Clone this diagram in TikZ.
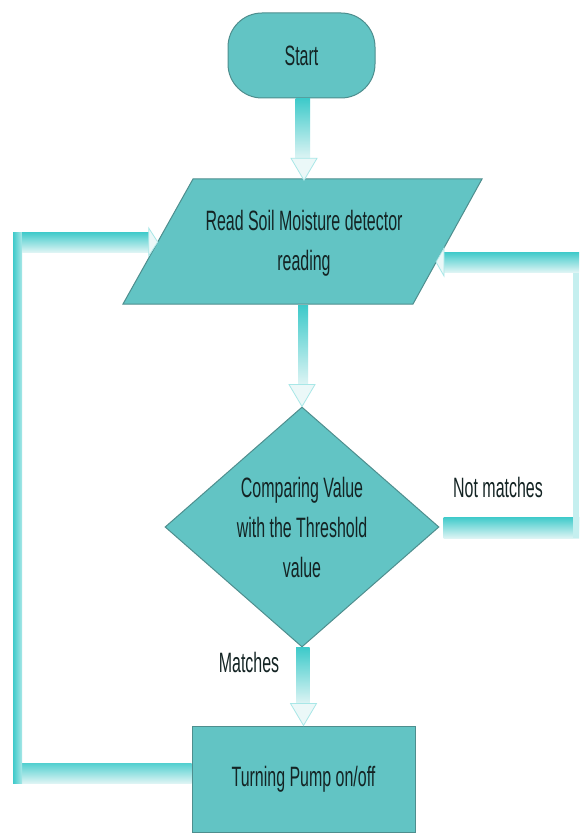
\documentclass[tikz,border=0pt]{standalone}
\usepackage{fontspec}
\setmainfont{Liberation Sans}[FakeStretch=0.57]
\usetikzlibrary{calc,shapes.geometric}

\definecolor{boxc}{HTML}{62C4C4}
\definecolor{edgec}{HTML}{4E8E8E}
\definecolor{flowc}{HTML}{3ECACA}
\definecolor{flowlt}{HTML}{DDF4F4}
\definecolor{txtc}{HTML}{142424}

\tikzset{
  box/.style={draw=edgec, line width=1pt, fill=boxc, text=txtc, align=center,
    font=\fontsize{28}{40}\selectfont, inner sep=0pt},
  lbl/.style={text=txtc, align=center, font=\fontsize{28}{40}\selectfont, inner sep=0pt},
  flowbar/.style={top color=flowc, bottom color=flowlt},
  flowhead/.style={draw=flowc!45, fill=flowlt!60, line width=0.8pt},
}
% thick bar going down from #1 to #2, hollow head ending at #2
\newcommand{\vflow}[2]{%
  \shade[flowbar] ($#1+(-6,0)$) rectangle ($#2+(6,-22)$);
  \draw[flowhead] ($#2+(-13,-22)$) -- ($#2+(13,-22)$) -- #2 -- cycle;
}

\begin{document}
\begin{tikzpicture}[x=1pt, y=-1pt]
  \fill[white] (0,0) rectangle (579,834);

  %%%%% SHAPES %%%%%
  \node[box, rounded corners=34pt, minimum width=147pt, minimum height=85pt] (start) at (301.5,55.5) {Start};

  \draw[box] (193,179) -- (482,179) -- (413,304) -- (123,304) -- cycle;
  \node[lbl, minimum width=289pt, minimum height=125pt] (read) at (304,243) {Read Soil Moisture detector\\reading};
  \coordinate (readL) at (157.7,242);
  \coordinate (readR) at (436,262);

  \node[box, diamond, aspect=1.14, minimum width=274pt, minimum height=240pt] (cmp) at (302,527) {Comparing Value\\with the Threshold\\value};

  \node[box, minimum width=223pt, minimum height=106pt] (pump) at (303.5,779) {Turning Pump on/off};

  \node[lbl] (notm) at (498,487) {Not matches};
  \node[lbl] (mat) at (249,662) {Matches};

  %%%%% FLOW %%%%%
  \vflow{(start.south)}{(read.north)}
  \vflow{(read.south)}{(cmp.north)}
  \vflow{(cmp.south)}{(pump.north)}

  % back to reading, left side
  \coordinate (lbot) at (13,763);
  \coordinate (ltop) at (13,232);
  \shade[flowbar, top color=flowc!90] (lbot) rectangle ($(pump.west)+(0,4)$);
  \shade[left color=flowc, right color=flowc!45] (ltop) rectangle ($(lbot)+(9,20)$);
  \shade[flowbar] ($(ltop)+(9,0)$) rectangle ($(readL)+(-8,10)$);
  \draw[flowhead] ($(readL)+(-9,-14)$) -- ($(readL)+(-9,14)$) -- (readL) -- cycle;

  % not matches, right side
  \coordinate (rtop) at (579,252);
  \shade[flowbar] ($(cmp.east)+(4,-10)$) rectangle ($(rtop)+(0,286)$);
  \fill[flowc!30] (rtop) rectangle ($(rtop)+(-6,286)$);
  \shade[flowbar] (rtop) rectangle ($(readR)+(8,10)$);
  \draw[flowhead] ($(readR)+(8,-14)$) -- ($(readR)+(8,14)$) -- (readR) -- cycle;
\end{tikzpicture}
\end{document}
